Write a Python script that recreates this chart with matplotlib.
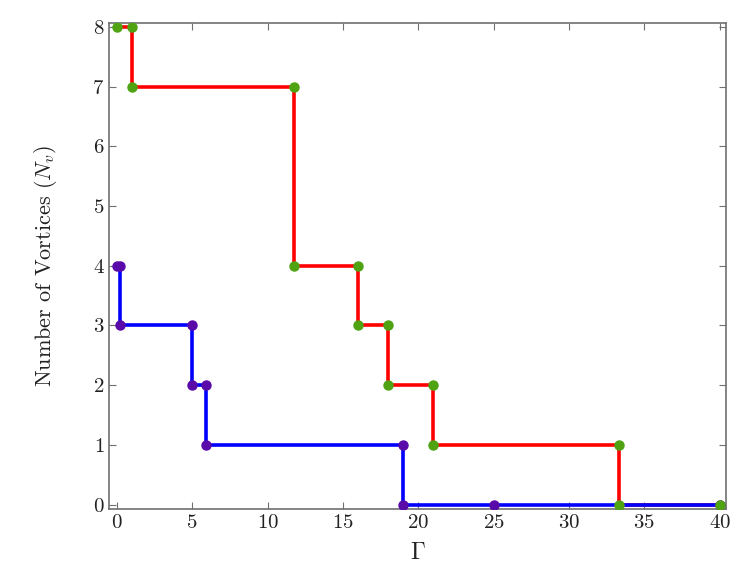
import matplotlib
matplotlib.use("Agg")
import matplotlib.pyplot as plt

# step data (Gamma, N_v)
gamma_red = [0.0, 1.0, 1.0, 11.75, 11.75, 16.0, 16.0, 18.0, 18.0, 21.0, 21.0, 33.3, 33.3, 40.0]
nv_red = [8, 8, 7, 7, 4, 4, 3, 3, 2, 2, 1, 1, 0, 0]

gamma_blue = [0.0, 0.2, 0.2, 5.0, 5.0, 5.9, 5.9, 19.0, 19.0, 25.0, 40.0]
nv_blue = [4, 4, 3, 3, 2, 2, 1, 1, 0, 0, 0]

xticks = [0, 5, 10, 15, 20, 25, 30, 35, 40]
yticks = [0, 1, 2, 3, 4, 5, 6, 7, 8]

plt.rcParams['font.family'] = 'cmr10'
plt.rcParams['mathtext.fontset'] = 'cm'
plt.rcParams['axes.formatter.use_mathtext'] = True

fig = plt.figure(figsize=(7.47, 5.81), dpi=100)
ax = fig.add_axes([0.1463, 0.1234, 0.8252, 0.8376])

# lines first (blue over red), markers on top
ax.plot(gamma_red, nv_red, color='#ff0000', lw=2.6, zorder=2)
ax.plot(gamma_blue, nv_blue, color='#0000ff', lw=2.6, zorder=2)
ax.plot(gamma_blue, nv_blue, 'o', color='#5a0aa8', ms=6.5, zorder=3)
ax.plot(gamma_red, nv_red, 'o', color='#4fa312', ms=6.5, zorder=3)

ax.set_xlim(-0.5, 40.4)
ax.set_ylim(-0.08, 8.07)
ax.set_xticks(xticks)
ax.set_yticks(yticks)

for s in ax.spines.values():
    s.set_color('#707070')
    s.set_linewidth(1.2)
ax.tick_params(direction='in', top=True, right=True, length=5, width=0.8,
               colors='#707070', labelcolor='#222222', labelsize=15)

ax.set_xlabel(r'$\Gamma$', fontsize=17, labelpad=7, color='#222222')
ax.set_ylabel(r'Number of Vortices ($N_v$)', fontsize=16, labelpad=24, color='#222222')

fig.savefig('out.png', dpi=100)
